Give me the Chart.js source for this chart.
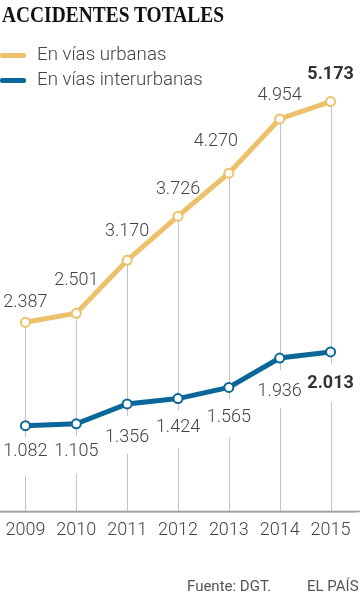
<!DOCTYPE html>
<html><head><meta charset="utf-8">
<script src="https://cdn.jsdelivr.net/npm/chart.js@4/dist/chart.umd.min.js"></script>
<style>
html,body{margin:0;padding:0;background:#fff;width:360px;height:613px;overflow:hidden;}
#wrap{position:absolute;left:0;top:0;width:360px;height:613px;}
canvas{position:absolute;left:0;top:0;}
.t{position:absolute;white-space:nowrap;}
#title{left:2px;top:1px;font-family:"Liberation Serif",serif;font-weight:bold;font-size:24px;color:#111;transform:scaleX(0.81);transform-origin:left top;}
.lg{position:absolute;left:0;width:26px;height:5px;border-radius:2px;}
.lt{left:37px;font-family:Roboto,sans-serif;font-weight:300;font-size:18.7px;color:#444;}
.ft{font-family:Roboto,sans-serif;font-size:15px;color:#555;top:577px;}
</style></head>
<body>
<div id="wrap">
<canvas id="c" width="360" height="613"></canvas>
<div class="t" id="title">ACCIDENTES TOTALES</div>
<div class="lg" style="top:53px;background:#EDC16B"></div>
<div class="t lt" style="top:43px">En vías urbanas</div>
<div class="lg" style="top:78px;background:#0B6699"></div>
<div class="t lt" style="top:68px">En vías interurbanas</div>
<div class="t ft" style="left:187px">Fuente: DGT.</div>
<div class="t ft" style="left:307px">EL PAÍS</div>
</div>
<script>
const years = ['2009','2010','2011','2012','2013','2014','2015'];
const urbanas = [2387, 2501, 3170, 3726, 4270, 4954, 5173];
const interurbanas = [1082, 1105, 1356, 1424, 1565, 1936, 2013];
const seriesNames = ['En vías urbanas', 'En vías interurbanas'];

const fmt = v => v.toLocaleString('de-DE');
const FONT = '300 18px Roboto';
const BOLD = 'bold 18px Roboto';

const labelPlugin = {
  id: 'labels',
  beforeDatasetsDraw(chart) {
    const ctx = chart.ctx;
    const mu = chart.getDatasetMeta(0).data;
    const bottom = chart.chartArea.bottom;
    ctx.save();
    ctx.strokeStyle = '#c4c4c4';
    ctx.lineWidth = 1;
    mu.forEach(p => {
      ctx.beginPath();
      ctx.moveTo(Math.round(p.x) + 0.5, p.y);
      ctx.lineTo(Math.round(p.x) + 0.5, bottom);
      ctx.stroke();
    });
    // extend baseline to full width
    ctx.strokeStyle = '#a0a0a0';
    ctx.lineWidth = 1.5;
    ctx.beginPath();
    ctx.moveTo(0, bottom);
    ctx.lineTo(chart.width, bottom);
    ctx.stroke();
    const mi = chart.getDatasetMeta(1).data;
    ctx.fillStyle = '#fff';
    mi.forEach((p, i) => {
      const y = p.y + 30;
      ctx.fillRect(p.x - 25, y - 18, 50, 38);
    });
    ctx.restore();
  },
  afterDatasetsDraw(chart) {
    const ctx = chart.ctx;
    ctx.save();
    ctx.textAlign = 'center';
    ctx.textBaseline = 'middle';
    const last = years.length - 1;
    const upOff = [20, 33, 29, 27, 32, 23, 27];
    const upDx = [0, 0, 0, 0, -13, 0, 0];
    chart.getDatasetMeta(0).data.forEach((p, i) => {
      ctx.font = i === last ? BOLD : FONT;
      ctx.fillStyle = i === last ? '#333' : '#444';
      ctx.fillText(fmt(urbanas[i]), p.x + upDx[i], p.y - upOff[i]);
    });
    const dnOff = [26, 28, 34, 29, 30, 33, 32];
    chart.getDatasetMeta(1).data.forEach((p, i) => {
      ctx.font = i === last ? BOLD : FONT;
      ctx.fillStyle = i === last ? '#333' : '#444';
      ctx.fillText(fmt(interurbanas[i]), p.x, p.y + dnOff[i]);
    });
    ctx.restore();
  }
};

new Chart(document.getElementById('c'), {
  type: 'line',
  data: {
    labels: years,
    datasets: [
      { label: seriesNames[0], data: urbanas, borderColor: '#EDC16B', borderWidth: 5,
        pointBackgroundColor: '#fff', pointBorderColor: '#EDC16B', pointBorderWidth: 2,
        pointRadius: 4.5, tension: 0, clip: false },
      { label: seriesNames[1], data: interurbanas, borderColor: '#0B6699', borderWidth: 5,
        pointBackgroundColor: '#fff', pointBorderColor: '#0B6699', pointBorderWidth: 2,
        pointRadius: 4.5, tension: 0, clip: false }
    ]
  },
  options: {
    responsive: false,
    animation: false,
    devicePixelRatio: 1,
    layout: { autoPadding: false, padding: { top: 75.7, left: 0, right: 4, bottom: 64 } },
    plugins: { legend: { display: false }, tooltip: { enabled: false }, title: { display: false } },
    scales: {
      x: {
        offset: true,
        afterFit: s => { s.paddingLeft = 0; s.paddingRight = 0; },
        grid: { display: false, drawTicks: false },
        border: { display: true, color: '#a0a0a0', width: 1.5 },
        ticks: { color: '#444', font: { family: 'Roboto', weight: '300', size: 18 }, padding: 8, maxRotation: 0 }
      },
      y: { display: false, min: 0, max: 5500 }
    }
  },
  plugins: [labelPlugin]
});
</script>
</body></html>
